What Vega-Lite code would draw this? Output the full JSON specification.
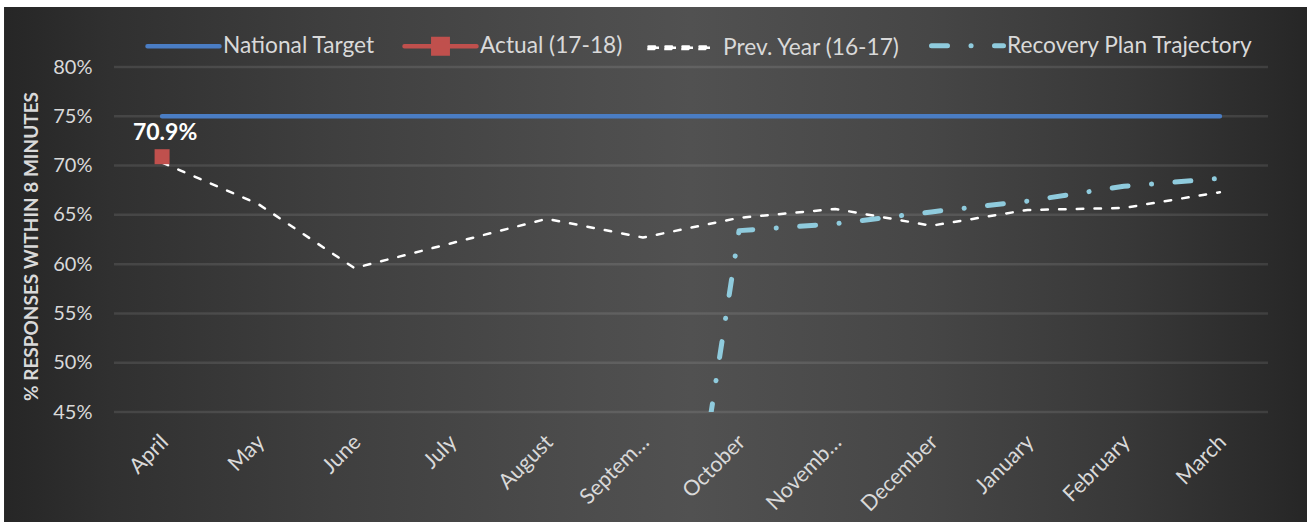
{
  "$schema": "https://vega.github.io/schema/vega-lite/v6.json",
  "width": 1154,
  "height": 345,
  "autosize": {"type": "none"},
  "padding": {"left": 114, "top": 67, "right": 39, "bottom": 110},
  "background": "#ffffff",
  "config": {
    "view": {"stroke": null},
    "font": "Lato"
  },
  "datasets": {
    "lines": [
      {"month": "April", "series": "National Target", "value": 0.75},
      {"month": "May", "series": "National Target", "value": 0.75},
      {"month": "June", "series": "National Target", "value": 0.75},
      {"month": "July", "series": "National Target", "value": 0.75},
      {"month": "August", "series": "National Target", "value": 0.75},
      {"month": "September", "series": "National Target", "value": 0.75},
      {"month": "October", "series": "National Target", "value": 0.75},
      {"month": "November", "series": "National Target", "value": 0.75},
      {"month": "December", "series": "National Target", "value": 0.75},
      {"month": "January", "series": "National Target", "value": 0.75},
      {"month": "February", "series": "National Target", "value": 0.75},
      {"month": "March", "series": "National Target", "value": 0.75},
      {"month": "April", "series": "Prev. Year (16-17)", "value": 0.703},
      {"month": "May", "series": "Prev. Year (16-17)", "value": 0.661},
      {"month": "June", "series": "Prev. Year (16-17)", "value": 0.596},
      {"month": "July", "series": "Prev. Year (16-17)", "value": 0.621},
      {"month": "August", "series": "Prev. Year (16-17)", "value": 0.646},
      {"month": "September", "series": "Prev. Year (16-17)", "value": 0.627},
      {"month": "October", "series": "Prev. Year (16-17)", "value": 0.647},
      {"month": "November", "series": "Prev. Year (16-17)", "value": 0.656},
      {"month": "December", "series": "Prev. Year (16-17)", "value": 0.639},
      {"month": "January", "series": "Prev. Year (16-17)", "value": 0.655},
      {"month": "February", "series": "Prev. Year (16-17)", "value": 0.657},
      {"month": "March", "series": "Prev. Year (16-17)", "value": 0.673},
      {"month": "September", "series": "Recovery Plan Trajectory", "value": 0.0},
      {"month": "October", "series": "Recovery Plan Trajectory", "value": 0.634},
      {"month": "November", "series": "Recovery Plan Trajectory", "value": 0.641},
      {"month": "December", "series": "Recovery Plan Trajectory", "value": 0.653},
      {"month": "January", "series": "Recovery Plan Trajectory", "value": 0.664},
      {"month": "February", "series": "Recovery Plan Trajectory", "value": 0.679},
      {"month": "March", "series": "Recovery Plan Trajectory", "value": 0.687}
    ],
    "actual": [
      {"month": "April", "series": "Actual (17-18)", "value": 0.709}
    ],
    "ticks": [
      {"tick": 0.45}, {"tick": 0.5}, {"tick": 0.55}, {"tick": 0.6},
      {"tick": 0.65}, {"tick": 0.7}, {"tick": 0.75}, {"tick": 0.8}
    ]
  },
  "resolve": {"scale": {"x": "independent", "y": "independent"}},
  "layer": [
    {
      "description": "dark shaded backdrop behind the whole chart",
      "data": {"values": [{}]},
      "mark": {
        "type": "rect",
        "fill": {
          "gradient": "linear",
          "x1": 0, "y1": 0, "x2": 1, "y2": 0,
          "stops": [
            {"offset": 0, "color": "#262626"},
            {"offset": 0.08, "color": "#303030"},
            {"offset": 0.25, "color": "#3f3f3f"},
            {"offset": 0.45, "color": "#4d4d4d"},
            {"offset": 0.52, "color": "#515151"},
            {"offset": 0.7, "color": "#464646"},
            {"offset": 0.85, "color": "#383838"},
            {"offset": 0.96, "color": "#2a2a2a"},
            {"offset": 1, "color": "#242424"}
          ]
        }
      },
      "encoding": {
        "x": {"datum": -0.0953, "type": "quantitative", "scale": {"domain": [0, 1]}, "axis": null},
        "x2": {"datum": 1.05},
        "y": {"datum": 1.174, "type": "quantitative", "scale": {"domain": [0, 1]}, "axis": null},
        "y2": {"datum": -0.5}
      }
    },
    {
      "encoding": {
        "x": {
          "field": "month",
          "type": "nominal",
          "scale": {"domain": ["April", "May", "June", "July", "August", "September", "October", "November", "December", "January", "February", "March"]},
          "axis": {
            "zindex": 1,
            "title": null,
            "labelAngle": -45,
            "domain": false,
            "ticks": false,
            "grid": false,
            "labelFont": "Lato",
            "labelFontSize": 21.5,
            "labelColor": "#d9d9d9",
            "labelPadding": 19,
            "labelOffset": -5,
            "labelExpr": "datum.label == 'September' ? 'Septem…' : datum.label == 'November' ? 'Novemb…' : datum.label"
          }
        },
        "y": {
          "field": "value",
          "type": "quantitative",
          "scale": {"domain": [0.45, 0.8], "nice": false, "zero": false},
          "axis": {
            "zindex": 1,
            "values": [0.45, 0.5, 0.55, 0.6, 0.65, 0.7, 0.75, 0.8],
            "format": ".0%",
            "grid": false,
            "domain": false,
            "ticks": false,
            "labelFont": "Lato",
            "labelFontSize": 20,
            "labelColor": "#d9d9d9",
            "labelPadding": 22,
            "title": "% RESPONSES WITHIN 8 MINUTES",
            "titleFont": "Lato",
            "titleFontSize": 19,
            "titleFontWeight": "bold",
            "titleColor": "#d9d9d9",
            "titlePadding": 11,
            "titleY": 179
          }
        }
      },
      "layer": [
        {
          "data": {"name": "ticks"},
          "mark": {"type": "rule", "color": "#ffffff", "opacity": 0.1, "strokeWidth": 2.5},
          "encoding": {
            "x": null,
            "y": {"field": "tick", "type": "quantitative"}
          }
        },
        {
          "data": {"name": "lines"},
          "mark": {"type": "line", "clip": true, "strokeCap": "round", "strokeJoin": "round"},
          "encoding": {
            "color": {
              "field": "series",
              "type": "nominal",
              "scale": {
                "domain": ["National Target", "Actual (17-18)", "Prev. Year (16-17)", "Recovery Plan Trajectory"],
                "range": ["#4A7DC4", "#C0504D", "#FFFFFF", "#8FCBDD"]
              },
              "legend": {
                "orient": "none",
                "legendX": 31,
                "legendY": -60,
                "direction": "horizontal",
                "title": null,
                "symbolSize": 5184,
                "symbolStrokeWidth": 5,
                "labelFont": "Lato",
                "labelFontSize": 22.7,
                "labelColor": "#d9d9d9",
                "labelOffset": 1,
                "labelLimit": 400,
                "columnPadding": 20,
                "symbolLimit": 0,
                "encode": {
                  "symbols": {
                    "update": {
                      "shape": {"signal": "datum.value === 'Actual (17-18)' ? 'M-1,0H1M-0.2,-0.2H0.2V0.2H-0.2ZM0,-0.5M0,0.5' : datum.value === 'Prev. Year (16-17)' ? 'M-1,-0.035H-0.708V0.035H-1ZM-0.528,-0.035H-0.236V0.035H-0.528ZM-0.056,-0.035H0.236V0.035H-0.056ZM0.417,-0.035H0.708V0.035H0.417ZM0,-0.5M0,0.5' : 'M-1,0H1M0,-0.5M0,0.5'"},
                      "fill": {"signal": "datum.value === 'Actual (17-18)' ? '#C0504D' : datum.value === 'Prev. Year (16-17)' ? '#FFFFFF' : 'transparent'"},
                      "stroke": {"signal": "datum.value === 'National Target' ? '#4A7DC4' : datum.value === 'Actual (17-18)' ? '#C0504D' : datum.value === 'Recovery Plan Trajectory' ? '#8FCBDD' : 'transparent'"},
                      "strokeCap": {"value": "round"}
                    }
                  }
                }
              }
            },
            "strokeDash": {
              "field": "series",
              "type": "nominal",
              "scale": {
                "domain": ["National Target", "Actual (17-18)", "Prev. Year (16-17)", "Recovery Plan Trajectory"],
                "range": [[1, 0], [1, 0], [6.5, 11.2], [16, 23.5, 0.1, 23.4]]
              }
            },
            "strokeWidth": {
              "field": "series",
              "type": "ordinal",
              "scale": {
                "type": "ordinal",
                "domain": ["National Target", "Actual (17-18)", "Prev. Year (16-17)", "Recovery Plan Trajectory"],
                "range": [4.5, 4.5, 2.5, 5]
              },
              "legend": null
            }
          }
        },
        {
          "data": {"name": "actual"},
          "mark": {"type": "square", "size": 225, "color": "#C0504D", "opacity": 1, "filled": true}
        },
        {
          "data": {"name": "actual"},
          "mark": {"type": "text", "dy": -24, "dx": 3, "font": "Lato", "fontSize": 23, "fontWeight": "bold", "color": "#ffffff"},
          "encoding": {
            "text": {"field": "value", "type": "quantitative", "format": ".1%"}
          }
        }
      ]
    }
  ]
}
